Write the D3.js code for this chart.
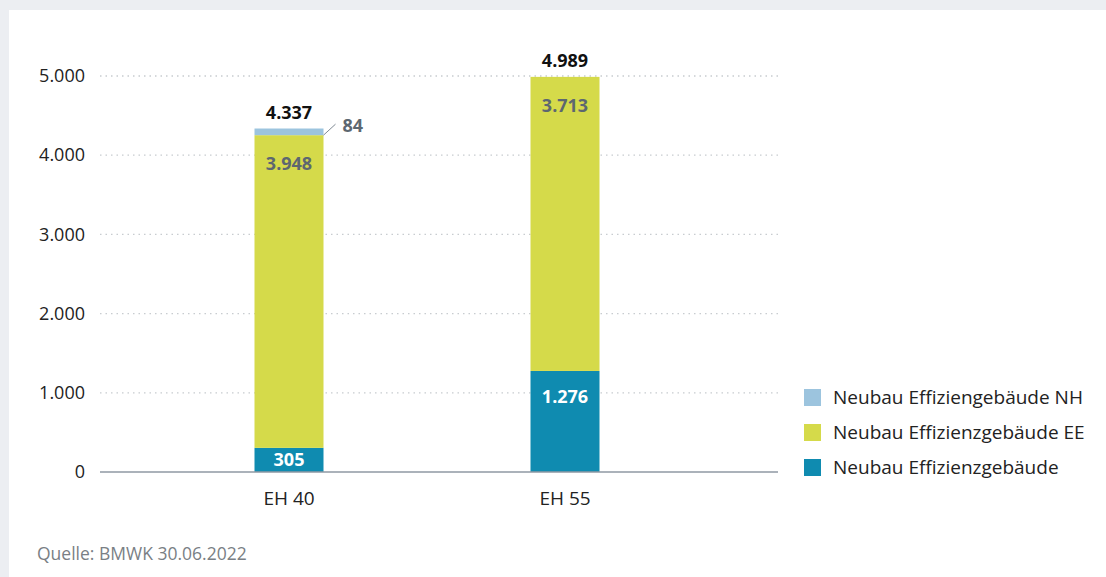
<!DOCTYPE html>
<html><head><meta charset="utf-8">
<script src="https://cdn.jsdelivr.net/npm/d3@7"></script>
<style>
html,body{margin:0;padding:0;background:#eceef2;}
svg{display:block;}
text{font-family:"Open Sans","Noto Sans",sans-serif;}
</style></head>
<body>
<svg id="chart" width="1106" height="577"></svg>
<script>
const categories = ["EH 40", "EH 55"];
const seriesNames = ["Neubau Effizienzgebäude", "Neubau Effizienzgebäude EE", "Neubau Effiziengebäude NH"];
const effizienz = [305, 1276];
const effizienzEE = [3948, 3713];
const effizienzNH = [84, 0];
const totals = [4337, 4989];
const yTicks = [0, 1000, 2000, 3000, 4000, 5000];
const source = "Quelle: BMWK 30.06.2022";

const colors = ["#0f8bb0", "#d5da4a", "#9cc4de"];
const fmt = v => d3.format(",")(v).replace(/,/g, ".");

const svg = d3.select("#chart");
svg.append("rect").attr("x", 9).attr("y", 10).attr("width", 1097).attr("height", 567).attr("fill", "#fff");

const y = d3.scaleLinear().domain([0, 5000]).range([472, 76]);
const x = d3.scaleBand().domain(categories).range([151, 703]).paddingInner(0.75).paddingOuter(0.375);

// grid
svg.append("g").selectAll("line").data(yTicks.filter(d => d > 0)).join("line")
  .attr("x1", 100).attr("x2", 778).attr("y1", d => y(d)).attr("y2", d => y(d))
  .attr("stroke", "#c8ccd0").attr("stroke-width", 1.3).attr("stroke-dasharray", "1.5,4");

// y axis labels
const yAxis = d3.axisLeft(y).tickValues(yTicks).tickFormat(fmt).tickSize(0).tickPadding(0);
const ya = svg.append("g").attr("transform", "translate(85,0)").call(yAxis);
ya.select(".domain").remove();
ya.selectAll("text").attr("font-size", 18).attr("fill", "#222").attr("font-family", "'Open Sans',sans-serif");

// stacks
const data = categories.map((c, i) => ({cat: c, a: effizienz[i], b: effizienzEE[i], c: effizienzNH[i]}));
const stack = d3.stack().keys(["a", "b", "c"])(data);
svg.append("g").selectAll("g").data(stack).join("g").attr("fill", (d, i) => colors[i])
  .selectAll("rect").data(d => d).join("rect")
  .attr("x", d => x(d.data.cat)).attr("width", x.bandwidth())
  .attr("y", d => y(d[1])).attr("height", d => y(d[0]) - y(d[1]));

// baseline
svg.append("line").attr("x1", 100).attr("x2", 778).attr("y1", y(0)).attr("y2", y(0))
  .attr("stroke", "#8f99a3").attr("stroke-width", 1.5);

// x labels
const xAxis = d3.axisBottom(x).tickSize(0).tickPadding(0);
const xa = svg.append("g").attr("transform", `translate(0,${y(0) + 33})`).call(xAxis);
xa.select(".domain").remove();
xa.selectAll("text").attr("font-size", 19).attr("fill", "#222").attr("dy", 0).attr("font-family", "'Open Sans',sans-serif");

const cx = d => x(d) + x.bandwidth() / 2;
// totals
svg.append("g").selectAll("text").data(categories).join("text")
  .attr("x", cx).attr("y", (d, i) => y(totals[i]) - 10)
  .attr("text-anchor", "middle").attr("font-size", 18).attr("font-weight", 700).attr("fill", "#111")
  .text((d, i) => fmt(totals[i]));

// EE labels
svg.append("g").selectAll("text").data(categories).join("text")
  .attr("x", cx).attr("y", (d, i) => y(effizienz[i] + effizienzEE[i]) + 35)
  .attr("text-anchor", "middle").attr("font-size", 18).attr("font-weight", 700).attr("fill", "#5d6770")
  .text((d, i) => fmt(effizienzEE[i]));

// base labels
svg.append("g").selectAll("text").data(categories).join("text")
  .attr("x", cx).attr("y", (d, i) => Math.min(y(effizienz[i]) + 32, (y(effizienz[i]) + y(0)) / 2 + 6.5))
  .attr("text-anchor", "middle").attr("font-size", 18).attr("font-weight", 700).attr("fill", "#fff")
  .text((d, i) => fmt(effizienz[i]));

// NH label with leader
const nhBottom = y(effizienz[0] + effizienzEE[0]);
const bx = x(categories[0]) + x.bandwidth();
svg.append("line").attr("x1", bx).attr("y1", nhBottom).attr("x2", bx + 12).attr("y2", nhBottom - 11)
  .attr("stroke", "#7f8a94").attr("stroke-width", 1);
svg.append("text").attr("x", bx + 19).attr("y", nhBottom - 3).attr("font-size", 18).attr("font-weight", 700)
  .attr("fill", "#5d6770").text(fmt(effizienzNH[0]));

// legend
const legendItems = [{n: seriesNames[2], c: colors[2]}, {n: seriesNames[1], c: colors[1]}, {n: seriesNames[0], c: colors[0]}];
const lg = svg.append("g").selectAll("g").data(legendItems).join("g")
  .attr("transform", (d, i) => `translate(804,${389 + i * 35})`);
lg.append("rect").attr("width", 17).attr("height", 17).attr("fill", d => d.c);
lg.append("text").attr("x", 29).attr("y", 15).attr("font-size", 19).attr("fill", "#222").text(d => d.n);

svg.append("text").attr("x", 37).attr("y", 560).attr("font-size", 17.5).attr("fill", "#7a7f85").text(source);
</script>
</body></html>
